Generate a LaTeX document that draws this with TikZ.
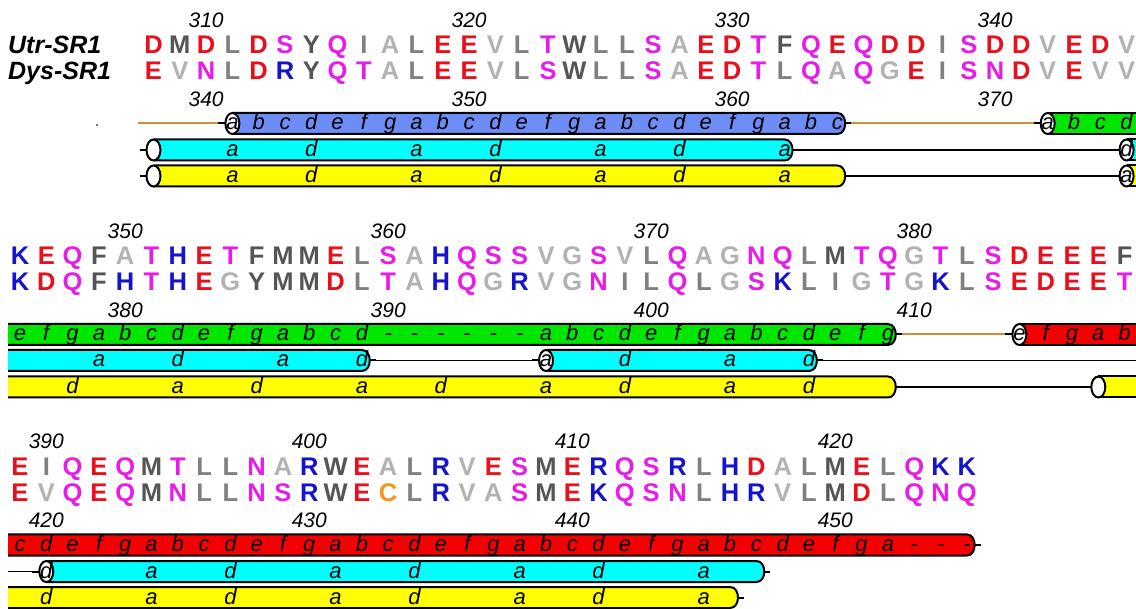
\documentclass[tikz,border=0pt]{standalone}
\usepackage{fontspec}
\setmainfont{Liberation Sans}
\definecolor{cRed}{RGB}{232,16,28}
\definecolor{cBlue}{RGB}{20,20,205}
\definecolor{cMag}{RGB}{232,28,232}
\definecolor{cDark}{RGB}{85,85,85}
\definecolor{cMid}{RGB}{128,128,128}
\definecolor{cLight}{RGB}{178,178,178}
\definecolor{cOrng}{RGB}{245,150,30}
\colorlet{aaD}{cRed}\colorlet{aaE}{cRed}
\colorlet{aaK}{cBlue}\colorlet{aaR}{cBlue}\colorlet{aaH}{cBlue}
\colorlet{aaS}{cMag}\colorlet{aaT}{cMag}\colorlet{aaN}{cMag}\colorlet{aaQ}{cMag}
\colorlet{aaF}{cDark}\colorlet{aaM}{cDark}\colorlet{aaW}{cDark}\colorlet{aaY}{cDark}
\colorlet{aaL}{cMid}\colorlet{aaI}{cMid}
\colorlet{aaA}{cLight}\colorlet{aaV}{cLight}\colorlet{aaG}{cLight}\colorlet{aaP}{cLight}
\colorlet{aaC}{cOrng}
\definecolor{bBlue}{RGB}{110,140,245}
\definecolor{bGreen}{RGB}{0,230,0}
\definecolor{bRed}{RGB}{245,0,0}
\definecolor{bCyan}{RGB}{0,255,255}
\definecolor{bYel}{RGB}{255,255,0}
\definecolor{lOr}{RGB}{200,145,60}
\newcommand\XA[1]{153.5+26.3*#1}
\newcommand\XB[1]{20+26.3*#1}
\tikzset{
  res/.style={inner sep=0pt, anchor=base, font=\fontsize{25.5}{25.5}\selectfont\bfseries},
  nam/.style={inner sep=0pt, anchor=base west, font=\fontsize{25}{25}\selectfont\bfseries\itshape},
  num/.style={inner sep=0pt, anchor=base, font=\fontsize{21}{21}\selectfont\itshape},
  hep/.style={inner sep=0pt, anchor=base, font=\fontsize{22}{22}\selectfont\itshape},
  barline/.style={line width=2pt, draw=black},
  link/.style={line width=1.6pt, draw=black},
  olink/.style={line width=2pt, draw=lOr},
}
% y, xs, xe, fill : body with rounded cap at right
\newcommand\capbar[4]{%
  \fill[#4] (#2,#1-10.5) -- (#3,#1-10.5) .. controls (#3+10.5,#1-10.5) and (#3+10.5,#1+10.5) .. (#3,#1+10.5) -- (#2,#1+10.5) -- cycle;
  \draw[barline] (#2,#1-10.5) -- (#3,#1-10.5) .. controls (#3+10.5,#1-10.5) and (#3+10.5,#1+10.5) .. (#3,#1+10.5) -- (#2,#1+10.5);
  \draw[barline] (#3+7.9,#1) -- (#3+14,#1);
}
% y, xs, xe, fill : body open at right
\newcommand\openbar[4]{%
  \fill[#4] (#2,#1-10.5) rectangle (#3,#1+10.5);
  \draw[barline] (#2,#1-10.5) -- (#3,#1-10.5) (#2,#1+10.5) -- (#3,#1+10.5);
}
% y, x : left end ellipse
\newcommand\leftend[2]{%
  \draw[barline] (#2-14,#1) -- (#2-7,#1);
  \draw[barline, fill=white] (#2,#1) ellipse [x radius=7, y radius=10.5];
}
% x0, baseline, name, list
\newcommand\resrow[4]{%
  \foreach \l [count=\i from 0] in {#4} {\node[res, text=aa\l] (#3-\i) at (#1+26.3*\i, #2) {\l};}%
}
% x0, y, name, start col, list
\newcommand\heprow[5]{%
  \foreach \l [count=\i from #4] in {#5} {\node[hep] (#3-\i) at (#1+26.3*\i, #2+6.5) {\l};}%
}
% x0, y, name, list col/letter
\newcommand\hepsparse[4]{%
  \foreach \c/\l in {#4} {\node[hep] (#3-\c) at (#1+26.3*\c, #2+6.5) {\l};}%
}
\begin{document}
\begin{tikzpicture}[x=1pt,y=-1pt]
\useasboundingbox (0,0) rectangle (1136,609);
\clip (0,0) rectangle (1136,609);
\fill[white] (0,0) rectangle (1136,609);

% ================= BLOCK 1 =================
\node[nam] (utr) at (8,54) {Utr-SR1};
\node[nam] (dys) at (8,80) {Dys-SR1};
\resrow{153.5}{54}{u1}{D,M,D,L,D,S,Y,Q,I,A,L,E,E,V,L,T,W,L,L,S,A,E,D,T,F,Q,E,Q,D,D,I,S,D,D,V,E,D,V}
\resrow{153.5}{80}{d1}{E,V,N,L,D,R,Y,Q,T,A,L,E,E,V,L,S,W,L,L,S,A,E,D,T,L,Q,A,Q,G,E,I,S,N,D,V,E,V,V}
\node[num] (t310) at (\XA{2},27.5) {310};
\node[num] (t320) at (\XA{12},27.5) {320};
\node[num] (t330) at (\XA{22},27.5) {330};
\node[num] (t340) at (\XA{32},27.5) {340};
\node[num] (b340) at (\XA{2},106.5) {340};
\node[num] (b350) at (\XA{12},106.5) {350};
\node[num] (b360) at (\XA{22},106.5) {360};
\node[num] (b370) at (\XA{32},106.5) {370};
\fill[black!70] (97,125) circle [radius=1.1];

% top track
\coordinate (p1a) at (138,123.5);
\coordinate (p1b) at (\XA{3}-13,123.5);
\coordinate (p1c) at (\XA{26}+14,123.5);
\coordinate (p1d) at (\XA{34}-13,123.5);
\draw[olink] (p1a) -- (p1b);
\draw[olink] (p1c) -- (p1d);
\capbar{123.5}{\XA{3}}{\XA{26}}{bBlue}
\leftend{123.5}{\XA{3}}
\openbar{123.5}{\XA{34}}{1150}{bGreen}
\leftend{123.5}{\XA{34}}
\heprow{153.5}{123.5}{hb1}{3}{a,b,c,d,e,f,g,a,b,c,d,e,f,g,a,b,c,d,e,f,g,a,b,c}
\heprow{153.5}{123.5}{hg1}{34}{a,b,c,d}

% cyan track
\coordinate (q1a) at (\XA{24}+8,150);
\coordinate (q1b) at (\XA{37}-7,150);
\draw[link] (q1a) -- (q1b);
\capbar{150}{\XA{0}}{\XA{24}}{bCyan}
\leftend{150}{\XA{0}}
\openbar{150}{\XA{37}}{1150}{bCyan}
\leftend{150}{\XA{37}}
\hepsparse{153.5}{150}{hc1}{3/a,6/d,10/a,13/d,17/a,20/d,24/a,37/d}

% yellow track
\coordinate (y1a) at (\XA{26}+8,176);
\coordinate (y1b) at (\XA{37}-7,176);
\draw[link] (y1a) -- (y1b);
\capbar{176}{\XA{0}}{\XA{26}}{bYel}
\leftend{176}{\XA{0}}
\openbar{176}{\XA{37}}{1150}{bYel}
\leftend{176}{\XA{37}}
\hepsparse{153.5}{176}{hy1}{3/a,6/d,10/a,13/d,17/a,20/d,24/a,37/a}

% ================= BLOCK 2 =================
\resrow{20}{265}{u2}{K,E,Q,F,A,T,H,E,T,F,M,M,E,L,S,A,H,Q,S,S,V,G,S,V,L,Q,A,G,N,Q,L,M,T,Q,G,T,L,S,D,E,E,E,F}
\resrow{20}{291}{d2}{K,D,Q,F,H,T,H,E,G,Y,M,M,D,L,T,A,H,Q,G,R,V,G,N,I,L,Q,L,G,S,K,L,I,G,T,G,K,L,S,E,D,E,E,T}
\node[num] (t350) at (\XB{4},238.5) {350};
\node[num] (t360) at (\XB{14},238.5) {360};
\node[num] (t370) at (\XB{24},238.5) {370};
\node[num] (t380) at (\XB{34},238.5) {380};
\node[num] (b380) at (\XB{4},317.5) {380};
\node[num] (b390) at (\XB{14},317.5) {390};
\node[num] (b400) at (\XB{24},317.5) {400};
\node[num] (b410) at (\XB{34},317.5) {410};

% top track
\coordinate (p2a) at (\XB{33}+14,334.5);
\coordinate (p2b) at (\XB{38}-13,334.5);
\draw[olink] (p2a) -- (p2b);
\capbar{334.5}{8}{\XB{33}}{bGreen}
\openbar{334.5}{\XB{38}}{1150}{bRed}
\leftend{334.5}{\XB{38}}
\heprow{20}{334.5}{hg2}{0}{e,f,g,a,b,c,d,e,f,g,a,b,c,d,-,-,-,-,-,-,a,b,c,d,e,f,g,a,b,c,d,e,f,g}
\heprow{20}{334.5}{hr2}{38}{e,f,g,a,b}

% cyan track
\coordinate (q2a) at (\XB{13}+8,360.5);
\coordinate (q2b) at (\XB{20}-7,360.5);
\coordinate (q2c) at (\XB{30}+8,360.5);
\coordinate (q2d) at (1150,360.5);
\draw[link] (q2a) -- (q2b);
\draw[link] (q2c) -- (q2d);
\capbar{360.5}{8}{\XB{13}}{bCyan}
\capbar{360.5}{\XB{20}}{\XB{30}}{bCyan}
\leftend{360.5}{\XB{20}}
\hepsparse{20}{360.5}{hc2}{3/a,6/d,10/a,13/d,20/a,23/d,27/a,30/d}

% yellow track
\coordinate (y2a) at (\XB{33}+8,387);
\coordinate (y2b) at (\XB{41}-7,387);
\draw[link] (y2a) -- (y2b);
\capbar{387}{8}{\XB{33}}{bYel}
\openbar{387}{\XB{41}}{1150}{bYel}
\leftend{387}{\XB{41}}
\hepsparse{20}{387}{hy2}{2/d,6/a,9/d,13/a,16/d,20/a,23/d,27/a,30/d}

% ================= BLOCK 3 =================
\resrow{20}{476}{u3}{E,I,Q,E,Q,M,T,L,L,N,A,R,W,E,A,L,R,V,E,S,M,E,R,Q,S,R,L,H,D,A,L,M,E,L,Q,K,K}
\resrow{20}{501.5}{d3}{E,V,Q,E,Q,M,N,L,L,N,S,R,W,E,C,L,R,V,A,S,M,E,K,Q,S,N,L,H,R,V,L,M,D,L,Q,N,Q}
\node[num] (t390) at (\XB{1},448.5) {390};
\node[num] (t400) at (\XB{11},448.5) {400};
\node[num] (t410) at (\XB{21},448.5) {410};
\node[num] (t420) at (\XB{31},448.5) {420};
\node[num] (b420) at (\XB{1},527.5) {420};
\node[num] (b430) at (\XB{11},527.5) {430};
\node[num] (b440) at (\XB{21},527.5) {440};
\node[num] (b450) at (\XB{31},527.5) {450};

% top track
\capbar{545}{8}{\XB{36}}{bRed}
\heprow{20}{545}{hr3}{0}{c,d,e,f,g,a,b,c,d,e,f,g,a,b,c,d,e,f,g,a,b,c,d,e,f,g,a,b,c,d,e,f,g,a,-,-,-}

% cyan track
\coordinate (q3a) at (8,571.5);
\coordinate (q3b) at (\XB{1}-7,571.5);
\draw[link] (q3a) -- (q3b);
\capbar{571.5}{\XB{1}}{\XB{28}}{bCyan}
\leftend{571.5}{\XB{1}}
\hepsparse{20}{571.5}{hc3}{1/d,5/a,8/d,12/a,15/d,19/a,22/d,26/a}

% yellow track
\capbar{597.5}{8}{\XB{27}}{bYel}
\hepsparse{20}{597.5}{hy3}{1/d,5/a,8/d,12/a,15/d,19/a,22/d,26/a}
\end{tikzpicture}
\end{document}
